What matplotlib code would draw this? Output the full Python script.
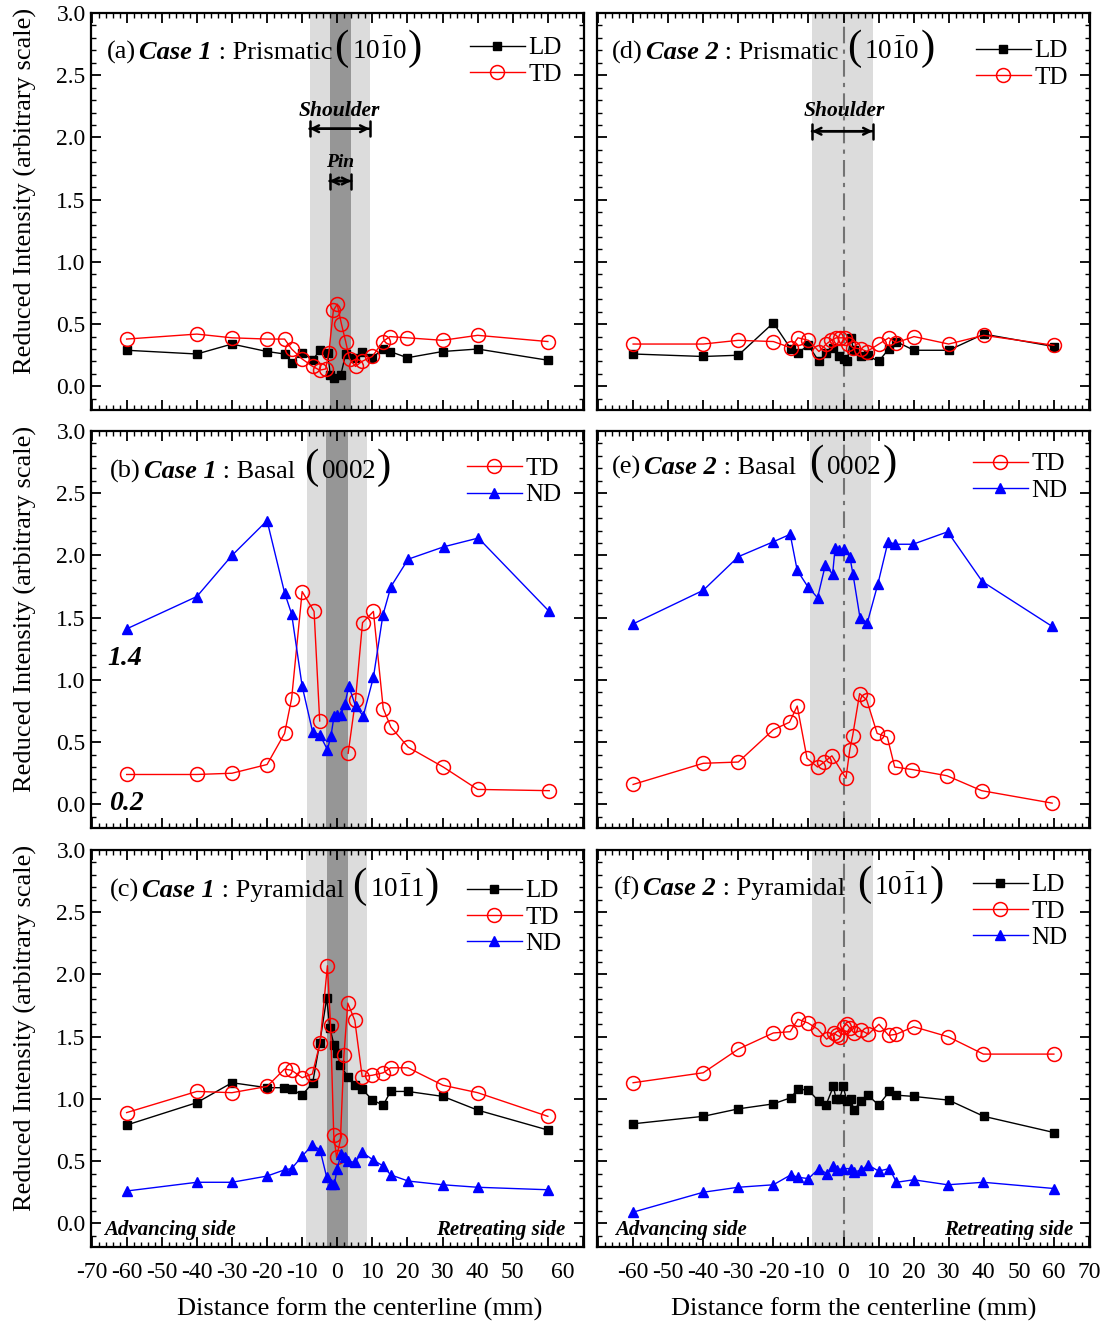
import numpy as np
import matplotlib
matplotlib.use("Agg")
import matplotlib.pyplot as plt
from matplotlib.ticker import MultipleLocator, FormatStrFormatter, FixedLocator, FixedFormatter
from matplotlib.transforms import ScaledTranslation

plt.rcParams["font.family"] = ["Liberation Serif", "DejaVu Serif"]
plt.rcParams["mathtext.fontset"] = "custom"
plt.rcParams["mathtext.rm"] = "Liberation Serif"
plt.rcParams["axes.unicode_minus"] = False

W, H = 1107, 1328
NAN = np.nan

# ---- (a) Case 1, prismatic
a_ld_x = [-60, -40, -30, -20, -15, -13, -10, -7, -5, -2.7, -2, -1, 1, 2.4, 5, 7, 10, 13, 15, 20, 30, 40, 60]
a_ld_y = [0.29, 0.26, 0.34, 0.28, 0.26, 0.19, 0.27, 0.21, 0.29, 0.27, 0.09, 0.07, 0.09, 0.26, 0.23, 0.28, 0.23, 0.30, 0.28, 0.23, 0.28, 0.30, 0.21]
a_td_x = [-60, -40, -30, -20, -15, -13, -10, -7, -5, -3.3, -2.4, -1.1, 0, 1.2, 2.4, 3.5, 5.2, 7, 10, 13, 15, 20, 30, 40, 60]
a_td_y = [0.38, 0.42, 0.39, 0.38, 0.38, 0.30, 0.22, 0.16, 0.13, 0.14, 0.27, 0.61, 0.66, 0.50, 0.36, 0.22, 0.16, 0.20, 0.24, 0.36, 0.40, 0.39, 0.37, 0.41, 0.36]

# ---- (b) Case 1, basal
b_td_x = [-60, -40, -30, -20, -15, -13, -10, -6.6, -5, NAN, 3.1, 5.2, 7.2, 10.3, 13.1, 15.3, 20.2, 30.2, 40, 60.4]
b_td_y = [0.24, 0.24, 0.25, 0.32, 0.57, 0.85, 1.71, 1.55, 0.67, NAN, 0.41, 0.84, 1.46, 1.55, 0.77, 0.62, 0.46, 0.30, 0.12, 0.11]
b_nd_x = [-60, -40, -30, -20, -15, -13, -10, -7, -5, -2.8, -1.8, -0.9, 0, 1, 2.2, 3.3, 5.2, 7.4, 10.3, 13, 15.3, 20.2, 30.4, 40.2, 60.4]
b_nd_y = [1.41, 1.67, 2.00, 2.28, 1.70, 1.53, 0.95, 0.58, 0.56, 0.44, 0.55, 0.71, 0.72, 0.72, 0.81, 0.95, 0.79, 0.71, 1.02, 1.52, 1.75, 1.97, 2.07, 2.14, 1.55]

# ---- (c) Case 1, pyramidal
c_ld_x = [-60, -40, -30, -20, -15.2, -13, -10, -7, -5, -3, -2.1, -0.9, 0, 0.8, 3, 5, 7.1, 10, 13.1, 15.2, 20.1, 30.1, 40, 60]
c_ld_y = [0.79, 0.97, 1.13, 1.09, 1.09, 1.08, 1.03, 1.13, 1.45, 1.81, 1.57, 1.43, 1.37, 1.27, 1.18, 1.11, 1.08, 0.99, 0.95, 1.06, 1.06, 1.02, 0.91, 0.75]
c_td_x = [-60, -40, -30, -20, -15, -13, -10, -7.1, -4.9, -2.8, -1.9, -1, -0.2, 0.9, 1.9, 3, 5, 7.1, 10, 13.1, 15.2, 20.1, 30.1, 40, 60]
c_td_y = [0.89, 1.06, 1.05, 1.10, 1.24, 1.23, 1.17, 1.20, 1.45, 2.07, 1.59, 0.71, 0.53, 0.67, 1.35, 1.77, 1.63, 1.18, 1.19, 1.21, 1.25, 1.25, 1.11, 1.05, 0.86]
c_nd_x = [-60, -40, -30, -20, -15, -13, -10, -7.1, -4.9, -3, -1.9, -0.8, 0, 1.1, 2.1, 3, 5, 7.1, 10.2, 13.1, 15.2, 20.2, 30.1, 40, 60]
c_nd_y = [0.26, 0.33, 0.33, 0.38, 0.43, 0.44, 0.54, 0.63, 0.59, 0.37, 0.32, 0.32, 0.44, 0.56, 0.53, 0.50, 0.49, 0.57, 0.51, 0.46, 0.39, 0.34, 0.31, 0.29, 0.27]

# ---- (d) Case 2, prismatic
d_ld_x = [-60, -40, -30, -20, -15, -13, -10, -7, -5, -3, -1.4, 0, 1.1, 2, 3, 5, 6.9, 10, 12.9, 15, 20.1, 30, 40, 60]
d_ld_y = [0.26, 0.24, 0.25, 0.51, 0.30, 0.27, 0.33, 0.20, 0.27, 0.31, 0.24, 0.22, 0.20, 0.39, 0.29, 0.24, 0.25, 0.20, 0.30, 0.36, 0.29, 0.29, 0.42, 0.32]
d_td_x = [-60, -40, -30, -20, -15, -13, -10, -7, -4.9, -3.5, -2.1, -0.9, 0.3, 1.4, 2.7, 5, 6.7, 10.1, 12.9, 15, 20.1, 30, 40, 60]
d_td_y = [0.34, 0.34, 0.37, 0.36, 0.31, 0.39, 0.37, 0.28, 0.34, 0.37, 0.39, 0.39, 0.39, 0.34, 0.31, 0.30, 0.28, 0.34, 0.39, 0.35, 0.40, 0.34, 0.41, 0.33]

# ---- (e) Case 2, basal
e_td_x = [-60, -40, -30, -20, -15.4, -13.2, -10.4, -7.4, -5.5, -3.3, 0.7, 1.8, 2.6, 4.6, 6.6, 9.6, 12.5, 14.6, 19.6, 29.5, 39.4, 59.5]
e_td_y = [0.16, 0.33, 0.34, 0.60, 0.66, 0.79, 0.37, 0.30, 0.34, 0.39, 0.21, 0.44, 0.55, 0.89, 0.84, 0.57, 0.54, 0.30, 0.28, 0.23, 0.11, 0.01]
e_nd_x = [-60, -40, -30, -20, -15.2, -13.2, -10.2, -7.4, -5.2, -3.1, -2.4, -1.2, 0, 1.8, 2.7, 4.7, 6.8, 9.8, 12.7, 14.8, 19.8, 29.7, 39.6, 59.5]
e_nd_y = [1.45, 1.72, 1.99, 2.11, 2.17, 1.88, 1.75, 1.66, 1.92, 1.85, 2.06, 2.04, 2.05, 1.99, 1.85, 1.50, 1.46, 1.77, 2.11, 2.09, 2.09, 2.19, 1.79, 1.43]

# ---- (f) Case 2, pyramidal
f_ld_x = [-60, -40, -30, -20, -15, -13, -10, -7, -5, -2.9, -2.1, -1.1, -0.1, 1, 2.2, 2.9, 5, 7, 10, 13.1, 15.1, 20, 30, 40, 60]
f_ld_y = [0.80, 0.86, 0.92, 0.96, 1.01, 1.08, 1.07, 0.98, 0.95, 1.10, 1.00, 1.00, 1.10, 0.98, 1.00, 0.91, 0.98, 1.03, 0.95, 1.06, 1.03, 1.02, 0.99, 0.86, 0.73]
f_td_x = [-60, -40, -30, -20, -15.2, -13, -10.1, -7.3, -4.8, -2.7, -1.8, -1, 0, 0.9, 1.8, 3, 5.1, 7.1, 10.1, 12.9, 15.1, 20, 29.8, 39.9, 60]
f_td_y = [1.13, 1.21, 1.40, 1.53, 1.54, 1.64, 1.61, 1.56, 1.48, 1.53, 1.51, 1.50, 1.58, 1.60, 1.57, 1.53, 1.55, 1.52, 1.60, 1.51, 1.52, 1.58, 1.50, 1.36, 1.36]
f_nd_x = [-60, -40, -30, -20, -15, -13, -10, -7, -4.8, -2.9, -1.8, -0.1, 2.2, 2.9, 5.1, 7, 10, 13.1, 15.1, 20, 29.7, 39.9, 60]
f_nd_y = [0.09, 0.25, 0.29, 0.31, 0.39, 0.37, 0.36, 0.44, 0.40, 0.46, 0.43, 0.44, 0.44, 0.41, 0.43, 0.47, 0.42, 0.44, 0.33, 0.35, 0.31, 0.33, 0.28]

# shoulder / pin zones (mm) per panel
shoulder = {"a": (-7.9, 9.2), "b": (-8.7, 8.5), "c": (-8.8, 8.5),
            "d": (-9.0, 8.3), "e": (-9.5, 7.9), "f": (-9.0, 8.3)}
pin = {"a": (-2.2, 4.0), "b": (-3.1, 3.2), "c": (-3.0, 3.1)}

LIGHT = "#dcdcdc"
DARK = "#969696"

fig = plt.figure(figsize=(W / 100, H / 100), dpi=100)

col_x = [(90.5, 493.5), (597, 493)]
row_top = [13, 431, 850]
AX_H = 397


def make_ax(col, row):
    x0, w = col_x[col]
    top = row_top[row]
    return fig.add_axes([x0 / W, 1 - (top + AX_H) / H, w / W, AX_H / H])


def style_ax(ax, left, bottom, xlabels=None, xlab_x=0.5):
    ax.set_xlim(-70.3, 70.3)
    ax.set_ylim(-0.19, 3.0)
    ticks = list(range(-70, 71, 10))
    ax.xaxis.set_major_locator(FixedLocator(ticks))
    if xlabels is None:
        ax.xaxis.set_major_formatter(FixedFormatter([""] * len(ticks)))
    else:
        ax.xaxis.set_major_formatter(FixedFormatter([str(t) if t in xlabels else "" for t in ticks]))
    ax.xaxis.set_minor_locator(MultipleLocator(2))
    ax.yaxis.set_major_locator(MultipleLocator(0.5))
    ax.yaxis.set_minor_locator(MultipleLocator(0.1))
    ax.yaxis.set_major_formatter(FormatStrFormatter("%.1f"))
    ax.tick_params(which="both", direction="in", top=True, right=True, labelsize=17)
    ax.tick_params(which="major", length=7, width=1.3)
    ax.tick_params(which="minor", length=3.5, width=1.0)
    ax.tick_params(axis="x", which="major", pad=11)
    if not left:
        ax.tick_params(labelleft=False)
    if not bottom:
        ax.tick_params(labelbottom=False)
    for s in ax.spines.values():
        s.set_linewidth(1.6)
    if left:
        ax.set_ylabel("Reduced Intensity (arbitrary scale)", fontsize=19)
        ax.yaxis.set_label_coords(-0.108, 0.553)
    if bottom:
        ax.set_xlabel("Distance form the centerline (mm)", fontsize=19)
        ax.xaxis.set_label_coords(xlab_x, -0.128)


def bands(ax, key):
    lo, hi = shoulder[key]
    ax.axvspan(lo, hi, color=LIGHT, zorder=0, lw=0)
    if key in pin:
        lo, hi = pin[key]
        ax.axvspan(lo, hi, color=DARK, zorder=0.5, lw=0)
    else:
        ax.axvline(0, color="0.45", ls=(0, (8, 3, 2, 3)), lw=1.5, zorder=1)


def plot_ld(ax, x, y):
    ax.plot(x, y, "-s", color="black", lw=1, ms=5.5, label="LD", zorder=3)


def plot_td(ax, x, y):
    ax.plot(x, y, "-o", color="red", lw=1, ms=10, mfc="none", mec="red", mew=1.1, label="TD", zorder=3)


def plot_nd(ax, x, y):
    ax.plot(x, y, "-^", color="blue", lw=1, ms=7.5, label="ND", zorder=3)


def legend(ax, y_anchor):
    ax.legend(loc="upper right", bbox_to_anchor=(0.955, y_anchor), frameon=False, fontsize=18,
              handlelength=2.2, handletextpad=0.15, labelspacing=0.15, borderaxespad=0, borderpad=0)


def seq_text(x_px, base_px, pieces):
    r = fig.canvas.get_renderer()
    x = x_px
    for s, kw, gap in pieces:
        x += gap
        t = fig.text(x / W, 1 - base_px / H, s, ha="left", va="baseline", **kw)
        x += t.get_window_extent(renderer=r).width


NORM = dict(fontsize=19)
BI = dict(fontsize=19, fontweight="bold", fontstyle="italic")
PAR = dict(fontsize=31)
DIG = dict(fontsize=19.5)


def title(x_px, base_px, letter, case, plane, miller, gap_par):
    seq_text(x_px, base_px, [
        ("(%s)" % letter, NORM, 0),
        ("Case %d" % case, BI, 3),
        (" : " + plane, NORM, 0),
        ("(", PAR, gap_par),
        (miller, DIG, 3),
        (")", PAR, 1),
    ])


def span_arrow(ax, lo, hi, y):
    ax.annotate("", xy=(hi, y), xytext=(lo, y),
                arrowprops=dict(arrowstyle="<->", lw=1.8, color="black", shrinkA=0, shrinkB=0,
                                mutation_scale=12))
    ax.annotate("", xy=(hi, y), xytext=(lo, y),
                arrowprops=dict(arrowstyle="|-|, widthA=0.45, widthB=0.45", lw=1.8, color="black",
                                shrinkA=0, shrinkB=0, mutation_scale=12))


# ---- panels
ax_a = make_ax(0, 0)
bands(ax_a, "a")
plot_ld(ax_a, a_ld_x, a_ld_y)
plot_td(ax_a, a_td_x, a_td_y)
style_ax(ax_a, True, False)
legend(ax_a, 0.94)

ax_b = make_ax(0, 1)
bands(ax_b, "b")
plot_td(ax_b, b_td_x, b_td_y)
plot_nd(ax_b, b_nd_x, b_nd_y)
style_ax(ax_b, True, False)
legend(ax_b, 0.933)

ax_c = make_ax(0, 2)
bands(ax_c, "c")
plot_ld(ax_c, c_ld_x, c_ld_y)
plot_td(ax_c, c_td_x, c_td_y)
plot_nd(ax_c, c_nd_x, c_nd_y)
style_ax(ax_c, True, True, xlabels=list(range(-70, 61, 10)), xlab_x=0.545)
legend(ax_c, 0.925)

ax_d = make_ax(1, 0)
bands(ax_d, "d")
plot_ld(ax_d, d_ld_x, d_ld_y)
plot_td(ax_d, d_td_x, d_td_y)
style_ax(ax_d, False, False)
legend(ax_d, 0.932)

ax_e = make_ax(1, 1)
bands(ax_e, "e")
plot_td(ax_e, e_td_x, e_td_y)
plot_nd(ax_e, e_nd_x, e_nd_y)
style_ax(ax_e, False, False)
legend(ax_e, 0.945)

ax_f = make_ax(1, 2)
bands(ax_f, "f")
plot_ld(ax_f, f_ld_x, f_ld_y)
plot_td(ax_f, f_td_x, f_td_y)
plot_nd(ax_f, f_nd_x, f_nd_y)
style_ax(ax_f, False, True, xlabels=list(range(-60, 71, 10)), xlab_x=0.521)
legend(ax_f, 0.94)

# ---- titles
title(107, 59, "a", 1, "Prismatic", r"$10\bar{1}0$", 2)
title(110, 478, "b", 1, "Basal", r"$0002$", 8)
title(110, 897, "c", 1, "Pyramidal", r"$10\bar{1}1$", 8)
title(612, 59, "d", 2, "Prismatic", r"$10\bar{1}0$", 8)
title(612, 474, "e", 2, "Basal", r"$0002$", 13)
title(614, 895, "f", 2, "Pyramidal", r"$10\bar{1}1$", 12)

# ---- shoulder / pin markers
lo, hi = shoulder["a"]
span_arrow(ax_a, lo, hi, 2.07)
ax_a.text((lo + hi) / 2, 2.21, "Shoulder", ha="center", va="center", fontsize=15.5,
          fontweight="bold", fontstyle="italic")
lo, hi = pin["a"]
span_arrow(ax_a, lo, hi, 1.65)
ax_a.text((lo + hi) / 2, 1.80, "Pin", ha="center", va="center", fontsize=14,
          fontweight="bold", fontstyle="italic")
lo, hi = shoulder["d"]
span_arrow(ax_d, lo, hi, 2.05)
ax_d.text((lo + hi) / 2 + 0.5, 2.21, "Shoulder", ha="center", va="center", fontsize=15.5,
          fontweight="bold", fontstyle="italic")

# ---- other labels
ax_b.text(-60.5, 1.17, "1.4", ha="center", va="center", fontsize=20, fontweight="bold", fontstyle="italic")
ax_b.text(-60.0, 0.01, "0.2", ha="center", va="center", fontsize=20, fontweight="bold", fontstyle="italic")
for ax, xl, xr in [(ax_c, -47.8, 46.6), (ax_f, -46.4, 47.1)]:
    ax.text(xl, -0.05, "Advancing side", ha="center", va="center", fontsize=15,
            fontweight="bold", fontstyle="italic")
    ax.text(xr, -0.05, "Retreating side", ha="center", va="center", fontsize=15,
            fontweight="bold", fontstyle="italic")

# the last label of the left column sits a little to the right
fig.canvas.draw()
for tick in ax_c.xaxis.get_major_ticks():
    if tick.label1.get_text() == "60":
        tick.label1.set_transform(tick.label1.get_transform()
                                  + ScaledTranslation(0.15, 0, fig.dpi_scale_trans))

fig.savefig("out.png", dpi=100)
